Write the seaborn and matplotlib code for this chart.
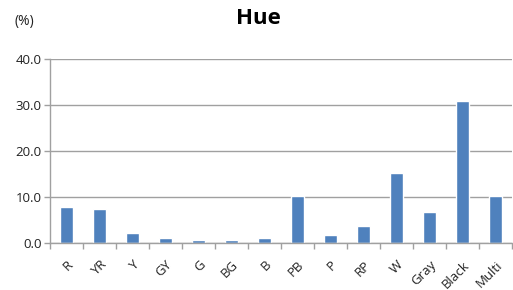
import matplotlib
matplotlib.use("Agg")
import matplotlib.pyplot as plt
import seaborn as sns
import pandas as pd
import numpy as np

categories = ["R", "YR", "Y", "GY", "G", "BG", "B", "PB", "P", "RP", "W", "Gray", "Black", "Multi"]
values = [7.9, 7.4, 2.2, 1.1, 0.6, 0.6, 1.0, 10.3, 1.8, 3.7, 15.3, 6.8, 30.9, 10.3]
yticks = [0, 10, 20, 30, 40]

sns.set_theme(style="white")
plt.rcParams['font.family'] = ['Open Sans', 'DejaVu Sans']

df = pd.DataFrame({"cat": categories, "val": values})

fig = plt.figure(figsize=(5.13, 2.90), dpi=100)
ax = fig.add_axes([50/513, 1-243/290, 462/513, (243-59)/290])
sns.barplot(data=df, x="cat", y="val", color="#4F81BD", width=0.4, ax=ax, saturation=1)

ax.set_xlim(-0.5, len(categories)-0.5)
ax.set_ylim(0, 40)
ax.set_yticks(yticks)
ax.set_yticklabels([f"{v:.1f}" for v in yticks], fontsize=9.5, color="#222222")
ax.yaxis.grid(True, color="#A0A0A0", linewidth=1)
ax.set_axisbelow(True)
ax.set_xlabel("")
ax.set_ylabel("")

ax.set_xticks(range(len(categories)))
ax.set_xticklabels(categories, rotation=45, ha="right", rotation_mode="anchor", fontsize=9.5, color="#222222")
ax.tick_params(axis="x", which="major", length=0, pad=11)
ax.set_xticks(np.arange(-0.5, len(categories), 1.0), minor=True)
ax.tick_params(axis="x", which="minor", length=4, color="#A0A0A0", width=1, direction="out", bottom=True)
ax.tick_params(axis="y", length=4, color="#A0A0A0", width=1, direction="out", left=True, pad=2)

for s in ["top", "right"]:
    ax.spines[s].set_visible(False)
for s in ["left", "bottom"]:
    ax.spines[s].set_color("#A0A0A0")
    ax.spines[s].set_linewidth(1)

fig.text(258/513, 1-19/290, "Hue", ha="center", va="center", fontsize=16, fontweight="bold", color="black")
fig.text(24/513, 1-22/290, "(%)", ha="center", va="center", fontsize=10, color="#222222")

fig.savefig("out.png", dpi=100)
